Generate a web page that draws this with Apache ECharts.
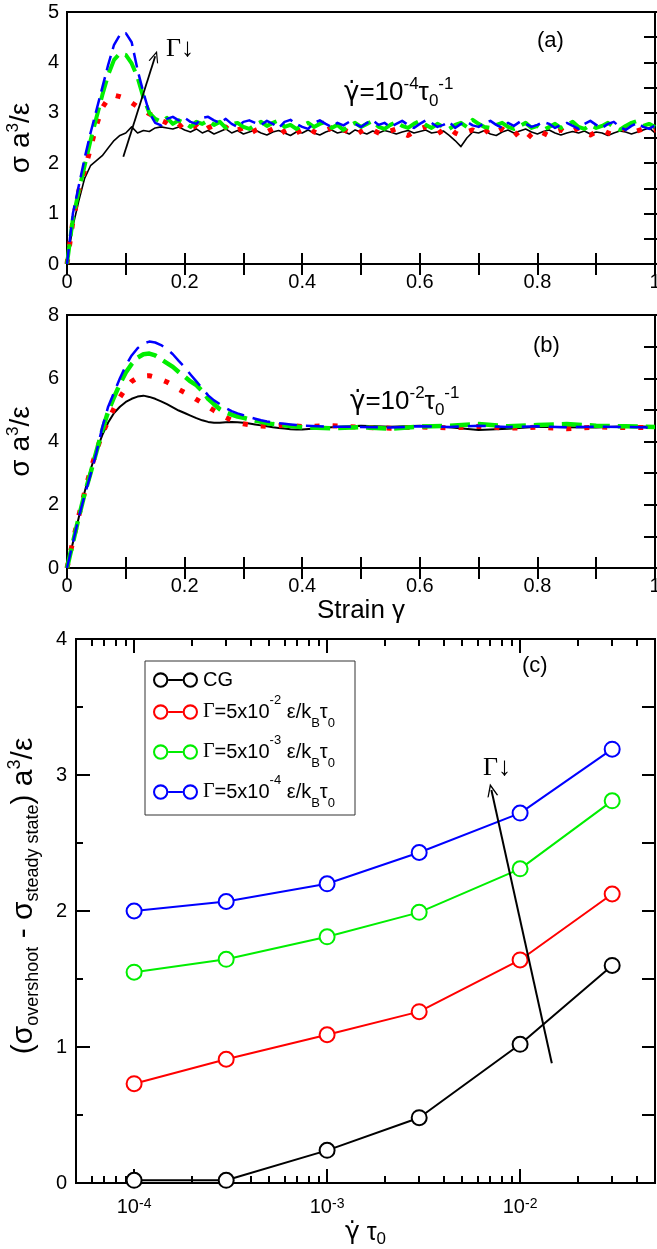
<!DOCTYPE html>
<html><head><meta charset="utf-8">
<script src="https://cdn.jsdelivr.net/npm/echarts@6/dist/echarts.min.js"></script>
<style>html,body{margin:0;padding:0;background:#fff}#c{width:657px;height:1249px}</style>
</head><body><div id="c"></div>
<script>
// ---------- Panel (a): shear rate 1e-4 ----------
const strainA = [0,0.01,0.02,0.03,0.04,0.05,0.06,0.07,0.08,0.09,
0.10,0.11,0.12,0.13,0.14,0.15,0.16,0.17,0.18,0.19,
0.20,0.21,0.22,0.23,0.24,0.25,0.26,0.27,0.28,0.29,
0.30,0.31,0.32,0.33,0.34,0.35,0.36,0.37,0.38,0.39,
0.40,0.41,0.42,0.43,0.44,0.45,0.46,0.47,0.48,0.49,
0.50,0.51,0.52,0.53,0.54,0.55,0.56,0.57,0.58,0.59,
0.60,0.61,0.62,0.63,0.64,0.65,0.66,0.67,0.68,0.69,
0.70,0.71,0.72,0.73,0.74,0.75,0.76,0.77,0.78,0.79,
0.80,0.81,0.82,0.83,0.84,0.85,0.86,0.87,0.88,0.89,
0.90,0.91,0.92,0.93,0.94,0.95,0.96,0.97,0.98,0.99,1.0];
const aCG = [0,0.75,1.25,1.7,1.95,2.05,2.15,2.3,2.45,2.55,
2.6,2.72,2.6,2.65,2.63,2.7,2.72,2.7,2.68,2.72,
2.66,2.62,2.68,2.6,2.65,2.58,2.63,2.68,2.6,2.65,
2.58,2.62,2.66,2.6,2.56,2.62,2.65,2.6,2.55,2.62,
2.6,2.66,2.6,2.56,2.62,2.66,2.6,2.63,2.58,2.66,
2.62,2.58,2.64,2.6,2.65,2.62,2.58,2.62,2.65,2.6,
2.63,2.66,2.6,2.62,2.64,2.55,2.45,2.33,2.5,2.62,
2.6,2.65,2.58,2.55,2.62,2.66,2.6,2.64,2.68,2.62,
2.58,2.63,2.66,2.6,2.56,2.6,2.63,2.6,2.64,2.58,
2.62,2.6,2.55,2.6,2.64,2.62,2.58,2.62,2.66,2.7,2.6];
const aG2 = [0,0.85,1.45,1.85,2.3,2.75,3.1,3.28,3.35,3.32,
3.28,3.2,3.12,3.05,2.98,2.92,2.85,2.8,2.72,2.78,
2.65,2.7,2.74,2.62,2.7,2.75,2.68,2.72,2.6,2.66,
2.7,2.58,2.65,2.7,2.62,2.68,2.55,2.64,2.7,2.6,
2.66,2.72,2.62,2.58,2.65,2.7,2.6,2.66,2.62,2.55,
2.63,2.7,2.66,2.6,2.56,2.64,2.68,2.6,2.55,2.62,
2.68,2.72,2.62,2.58,2.66,2.7,2.6,2.55,2.62,2.66,
2.6,2.68,2.56,2.62,2.68,2.6,2.64,2.5,2.45,2.58,
2.66,2.6,2.54,2.62,2.66,2.58,2.64,2.7,2.6,2.56,
2.62,2.66,2.6,2.56,2.64,2.7,2.6,2.64,2.68,2.62,2.66];
const aG3 = [0,0.9,1.45,1.95,2.45,2.9,3.35,3.75,4.05,4.18,
4.15,3.98,3.7,3.3,3.0,2.88,2.82,2.9,2.78,2.85,
2.8,2.72,2.82,2.78,2.85,2.76,2.82,2.7,2.78,2.8,
2.72,2.68,2.76,2.82,2.74,2.8,2.85,2.72,2.76,2.68,
2.74,2.8,2.72,2.78,2.82,2.7,2.76,2.66,2.74,2.8,
2.72,2.78,2.84,2.72,2.68,2.76,2.82,2.74,2.7,2.78,
2.84,2.76,2.7,2.78,2.72,2.68,2.76,2.8,2.72,2.86,
2.78,2.72,2.7,2.76,2.8,2.72,2.68,2.74,2.8,2.7,
2.74,2.66,2.72,2.78,2.7,2.76,2.82,2.72,2.68,2.76,
2.7,2.74,2.8,2.72,2.66,2.74,2.8,2.84,2.74,2.78,2.72];
const aG4 = [0,1.0,1.55,2.1,2.6,3.05,3.5,3.95,4.35,4.55,
4.58,4.4,3.85,3.4,3.0,2.8,2.75,2.88,2.92,2.85,
2.9,2.82,2.78,2.9,2.92,2.85,2.8,2.88,2.78,2.72,
2.82,2.85,2.8,2.76,2.84,2.78,2.7,2.82,2.86,2.78,
2.72,2.68,2.8,2.85,2.78,2.72,2.8,2.75,2.82,2.78,
2.72,2.8,2.85,2.76,2.8,2.72,2.78,2.84,2.76,2.7,
2.78,2.85,2.8,2.72,2.76,2.82,2.7,2.78,2.82,2.75,
2.72,2.8,2.84,2.76,2.7,2.8,2.74,2.82,2.78,2.72,
2.76,2.82,2.78,2.7,2.76,2.8,2.74,2.68,2.78,2.84,
2.76,2.7,2.78,2.82,2.72,2.66,2.74,2.8,2.72,2.68,2.75];

// ---------- Panel (b): shear rate 1e-2 ----------
const strainB = [0,0.01,0.02,0.03,0.04,0.05,0.06,0.07,0.08,0.09,
0.10,0.11,0.12,0.13,0.14,0.15,0.16,0.17,0.18,0.19,
0.20,0.21,0.22,0.23,0.24,0.25,0.26,0.27,0.28,0.29,
0.30,0.31,0.32,0.33,0.34,0.35,0.36,0.37,0.38,0.39,0.40,
0.45,0.50,0.55,0.60,0.65,0.70,0.75,0.80,0.85,0.90,0.95,1.0];
const bCG = [0,0.8,1.6,2.4,3.1,3.7,4.2,4.6,4.9,5.1,
5.25,5.35,5.42,5.45,5.41,5.35,5.27,5.18,5.08,4.98,
4.9,4.82,4.74,4.67,4.62,4.59,4.59,4.61,4.62,4.61,
4.59,4.57,4.54,4.51,4.48,4.45,4.43,4.41,4.39,4.38,4.38,
4.45,4.5,4.47,4.5,4.45,4.36,4.4,4.47,4.45,4.44,4.48,4.47];
const bG2 = [0,0.85,1.65,2.4,3.1,3.7,4.25,4.65,5.05,5.4,
5.68,5.9,6.02,6.07,6.08,6.03,5.96,5.88,5.78,5.65,
5.55,5.45,5.33,5.22,5.1,4.98,4.87,4.76,4.67,4.6,
4.56,4.53,4.5,4.49,4.48,4.48,4.5,4.52,4.51,4.49,4.47,
4.5,4.45,4.42,4.46,4.43,4.48,4.42,4.45,4.4,4.46,4.44,4.45];
const bG3 = [0,0.8,1.6,2.35,3.0,3.68,4.35,4.95,5.4,5.82,
6.18,6.45,6.65,6.76,6.78,6.72,6.6,6.48,6.36,6.2,
6.05,5.9,5.78,5.6,5.35,5.18,5.02,4.92,4.85,4.79,
4.75,4.7,4.66,4.62,4.58,4.55,4.53,4.51,4.49,4.47,4.45,
4.42,4.45,4.4,4.47,4.5,4.55,4.48,4.52,4.55,4.5,4.48,4.46];
const bG4 = [0,0.8,1.6,2.3,2.95,3.65,4.45,5.1,5.55,6.0,
6.4,6.72,6.95,7.1,7.16,7.13,7.05,6.92,6.76,6.55,
6.35,6.12,5.9,5.68,5.46,5.3,5.18,5.06,4.96,4.89,
4.83,4.77,4.72,4.67,4.63,4.6,4.58,4.56,4.54,4.52,4.5,
4.47,4.46,4.44,4.48,4.46,4.5,4.46,4.48,4.45,4.47,4.46,4.44];

// ---------- Panel (c): overshoot vs shear rate ----------
const rates = [1e-4, 3e-4, 1e-3, 3e-3, 1e-2, 3e-2];
const cCG = [0.02, 0.02, 0.24, 0.48, 1.02, 1.60];
const cG2 = [0.73, 0.91, 1.09, 1.26, 1.64, 2.125];
const cG3 = [1.55, 1.645, 1.81, 1.99, 2.31, 2.81];
const cG4 = [2.00, 2.07, 2.20, 2.43, 2.72, 3.19];
const decadeTicks = [1e-4, 1e-3, 1e-2];
const minorTicks = [6e-5,7e-5,8e-5,9e-5,2e-4,3e-4,4e-4,5e-4,6e-4,7e-4,8e-4,9e-4,
  2e-3,3e-3,4e-3,5e-3,6e-3,7e-3,8e-3,9e-3,2e-2,3e-2,4e-2];
const legendNames = ['CG', 'G2', 'G3', 'G4'];
const legendLabels = {
  CG: '{c|CG}',
  G2: '{g|Γ}=5x10{sup|-2} ε/k{sub|B}τ{sub|0}',
  G3: '{g|Γ}=5x10{sup|-3} ε/k{sub|B}τ{sub|0}',
  G4: '{g|Γ}=5x10{sup|-4} ε/k{sub|B}τ{sub|0}'
};

const FONT = '"Liberation Sans", Arial, Helvetica, sans-serif';
const SERIF = '"Liberation Serif", "Times New Roman", serif';
const DOTF = '"DejaVu Sans", sans-serif';
const BLACK = '#000', RED = '#ff0000', GREEN = '#00ee00', BLUE = '#0000ff';

function richSet(main, small, lh) {
  return {
    sup: {fontSize: small, fontFamily: FONT, color: '#000', lineHeight: small, verticalAlign: 'top'},
    sub: {fontSize: small, fontFamily: FONT, color: '#000', lineHeight: small, verticalAlign: 'bottom'},
    g: {fontSize: main, fontFamily: SERIF, color: '#000', lineHeight: lh},
    gd: {fontSize: main, fontFamily: DOTF, color: '#000', lineHeight: lh}
  };
}

const GRIDS = [
  {left: 67, top: 12, width: 588, height: 252},
  {left: 67, top: 315, width: 588, height: 253},
  {left: 76, top: 639, width: 579, height: 544}
];
const noLine = {show: false};
const tickStyle = {color: '#000', width: 2};
const labelStyle = {color: '#000', fontFamily: FONT, fontSize: 20, margin: 8};

function stepFormatter(step) {
  return v => {
    const k = v / step;
    if (Math.abs(k - Math.round(k)) > 1e-6) return '';
    return String(+v.toFixed(1));
  };
}
// label-only axis
function labelAxis(base) {
  return Object.assign({type: 'value', axisLine: noLine, axisTick: {show: false}, splitLine: {show: false}}, base);
}
// tick-only axis placed on the opposite edge so that its outward ticks point into the plot
function tickAxis(base, len) {
  return Object.assign({type: 'value', axisLine: noLine, splitLine: {show: false}, axisLabel: {show: false},
    axisTick: {show: true, inside: false, length: len, lineStyle: tickStyle}}, base);
}

function panelLinear(gi, ymax, yint, ylabelStep, yname) {
  const g = GRIDS[gi];
  const xs = {gridIndex: gi, min: 0, max: 1, interval: 0.1};
  const ys = {gridIndex: gi, min: 0, max: ymax, interval: yint};
  const x = [
    labelAxis(Object.assign({position: 'bottom', axisLabel: Object.assign({formatter: stepFormatter(0.2)}, labelStyle)}, xs)),
    tickAxis(Object.assign({position: 'top', offset: -g.height}, xs), 11),
    tickAxis(Object.assign({position: 'bottom', offset: -g.height}, xs), 11)
  ];
  const y = [
    labelAxis(Object.assign({position: 'left', axisLabel: Object.assign({formatter: stepFormatter(ylabelStep)}, labelStyle),
      name: yname, nameLocation: 'middle', nameRotate: 90, nameGap: 22,
      nameTextStyle: {color: '#000', fontFamily: FONT, fontSize: 28, lineHeight: 32, rich: richSet(28, 17, 32)}}, ys)),
    tickAxis(Object.assign({position: 'right', offset: -g.width}, ys), 11),
    tickAxis(Object.assign({position: 'left', offset: -g.width}, ys), 11)
  ];
  return {x, y};
}

function logBase(extra) {
  return Object.assign({type: 'log', logBase: 10, gridIndex: 2, min: 5e-5, max: 0.05,
    axisLine: noLine, splitLine: {show: false}, minorTick: {show: false}}, extra);
}
function logTick(pos, ticks, len) {
  return logBase({position: pos, offset: -GRIDS[2].height, axisLabel: {show: false},
    axisTick: {show: true, inside: false, length: len, customValues: ticks, lineStyle: tickStyle}});
}

const pA = panelLinear(0, 5, 0.5, 1, 'σ a{sup|3}/ε');
const pB = panelLinear(1, 8, 1, 2, 'σ a{sup|3}/ε');
pB.x[0].name = 'Strain γ';
pB.x[0].nameLocation = 'middle';
pB.x[0].nameGap = 30;
pB.x[0].nameTextStyle = {color: '#000', fontFamily: FONT, fontSize: 26};

const cX = [
  logBase({position: 'bottom', axisTick: {show: false},
    axisLabel: {customValues: decadeTicks, color: '#000', fontFamily: FONT, fontSize: 20, margin: 14,
      formatter: v => '10{sup|' + Math.round(Math.log10(v)) + '}',
      rich: {sup: {fontSize: 14, fontFamily: FONT, color: '#000', verticalAlign: 'top', lineHeight: 14}}},
    name: '{gd|γ̇} τ{sub|0}', nameLocation: 'middle', nameGap: 18,
    nameTextStyle: {color: '#000', fontFamily: FONT, fontSize: 25, lineHeight: 30, rich: richSet(25, 17, 30)}}),
  logTick('top', decadeTicks, 14),
  logTick('top', minorTicks, 7),
  logTick('bottom', decadeTicks, 14),
  logTick('bottom', minorTicks, 7)
];
const cYs = {gridIndex: 2, min: 0, max: 4};
const cY = [
  labelAxis(Object.assign({position: 'left', interval: 1, axisLabel: Object.assign({formatter: stepFormatter(1)}, labelStyle, {margin: 9}),
    name: '(σ{sub|overshoot} - σ{sub|steady state}) a{sup|3}/ε', nameLocation: 'middle', nameRotate: 90, nameGap: 34,
    nameTextStyle: {color: '#000', fontFamily: FONT, fontSize: 30, lineHeight: 36, padding: [0, 0, 0, 30], rich: richSet(30, 18, 36)}}, cYs)),
  Object.assign(tickAxis(Object.assign({position: 'right', offset: -GRIDS[2].width, interval: 1}, cYs), 14),
    {minorTick: {show: true, splitNumber: 2, length: 7, lineStyle: tickStyle}}),
  tickAxis(Object.assign({position: 'left', offset: -GRIDS[2].width, interval: 0.5}, cYs), 13)
];

function lineSeries(name, xi, yi, xs, ys, color, width, dash, z) {
  return {
    name: name, type: 'line', xAxisIndex: xi, yAxisIndex: yi,
    data: xs.map((x, i) => [x, ys[i]]), showSymbol: false, symbol: 'none', z: z,
    lineStyle: {color: color, width: width, type: dash, cap: 'butt', join: 'round'},
    emphasis: {disabled: true}, silent: true
  };
}
function ovSeries(name, ys, color) {
  return {
    name: name, type: 'line', xAxisIndex: 6, yAxisIndex: 6,
    data: rates.map((r, i) => [r, ys[i]]),
    symbol: 'emptyCircle', symbolSize: 15, showSymbol: true,
    lineStyle: {color: color, width: 2}, itemStyle: {color: color, borderColor: color, borderWidth: 2},
    emphasis: {disabled: true}, silent: true, z: 3
  };
}
const chevron = 'path://M0,12 L6,0 L12,12 L10.6,12 L6,3.2 L1.4,12 Z';
const ringIcon = 'path://M0.5,8 A7.5,7.5 0 1,1 15.5,8 A7.5,7.5 0 1,1 0.5,8 Z M2.5,8 A5.5,5.5 0 1,0 13.5,8 A5.5,5.5 0 1,0 2.5,8 Z M15.5,7 L29.5,7 L29.5,9 L15.5,9 Z M29.5,8 A7.5,7.5 0 1,1 44.5,8 A7.5,7.5 0 1,1 29.5,8 Z M31.5,8 A5.5,5.5 0 1,0 42.5,8 A5.5,5.5 0 1,0 31.5,8 Z';

const sC = ovSeries('CG', cCG, BLACK);
sC.markLine = {silent: true, symbol: ['none', chevron], symbolSize: [11, 13],
  lineStyle: {color: '#000', width: 2, type: 'solid'}, label: {show: false},
  data: [[{coord: [0.0146, 0.88]}, {coord: [0.0071, 2.89]}]]};

const aBlack = lineSeries('aCG', 0, 0, strainA, aCG, BLACK, 1.6, 'solid', 2);
aBlack.markLine = {silent: true, symbol: ['none', chevron], symbolSize: [10, 12],
  lineStyle: {color: '#000', width: 1.8, type: 'solid'}, label: {show: false},
  data: [[{coord: [0.0958, 2.13]}, {coord: [0.15, 4.12]}]]};

const chart = echarts.init(document.getElementById('c'), null, {renderer: 'canvas'});
const option = {
  animation: false,
  backgroundColor: '#fff',
  textStyle: {fontFamily: FONT},
  grid: GRIDS.map(g => Object.assign({show: true, borderColor: '#000', borderWidth: 2, backgroundColor: 'transparent', outerBoundsMode: 'none'}, g)),
  xAxis: pA.x.concat(pB.x, cX),
  yAxis: pA.y.concat(pB.y, cY),
  legend: {
    data: legendNames, orient: 'vertical', left: 145, top: 661,
    padding: [9, 20, 5, 8], itemGap: 4, itemWidth: 45, itemHeight: 16,
    borderColor: '#333', borderWidth: 1, backgroundColor: '#fff',
    icon: ringIcon, itemStyle: {borderWidth: 0}, selectedMode: false,
    formatter: n => legendLabels[n],
    textStyle: {color: '#000', fontFamily: FONT, fontSize: 20, lineHeight: 36,
      rich: Object.assign(richSet(20, 13, 36), {c: {fontSize: 20, fontFamily: FONT, color: '#000', lineHeight: 16}})}
  },
  series: [
    aBlack,
    lineSeries('aG2', 0, 0, strainA, aG2, RED, 5, [5, 13], 3),
    lineSeries('aG3', 0, 0, strainA, aG3, GREEN, 4, [20, 8], 4),
    lineSeries('aG4', 0, 0, strainA, aG4, BLUE, 2.5, [15, 7], 5),
    lineSeries('bCG', 3, 3, strainB, bCG, BLACK, 2, 'solid', 2),
    lineSeries('bG2', 3, 3, strainB, bG2, RED, 5, [5, 13], 3),
    lineSeries('bG3', 3, 3, strainB, bG3, GREEN, 4.5, [20, 8], 4),
    lineSeries('bG4', 3, 3, strainB, bG4, BLUE, 2.5, [18, 9], 5),
    sC,
    ovSeries('G2', cG2, RED),
    ovSeries('G3', cG3, GREEN),
    ovSeries('G4', cG4, BLUE)
  ],
  graphic: [
    {type: 'text', left: 537, top: 30, style: {text: '(a)', fontFamily: FONT, fontSize: 22, fill: '#000'}},
    {type: 'text', left: 166, top: 36, style: {text: 'Γ↓', fontFamily: SERIF, fontSize: 26, fill: '#000'}},
    {type: 'text', left: 344, top: 76, style: {text: '{gd|γ̇}=10{sup|-4}τ{sub|0}{sup|-1}', fontFamily: FONT, fontSize: 26, lineHeight: 34, fill: '#000', rich: richSet(26, 17, 34)}},
    {type: 'text', left: 533, top: 335, style: {text: '(b)', fontFamily: FONT, fontSize: 22, fill: '#000'}},
    {type: 'text', left: 350, top: 385, style: {text: '{gd|γ̇}=10{sup|-2}τ{sub|0}{sup|-1}', fontFamily: FONT, fontSize: 26, lineHeight: 34, fill: '#000', rich: richSet(26, 17, 34)}},
    {type: 'text', left: 522, top: 655, style: {text: '(c)', fontFamily: FONT, fontSize: 22, fill: '#000'}},
    {type: 'text', left: 483, top: 755, style: {text: 'Γ↓', fontFamily: SERIF, fontSize: 26, fill: '#000'}}
  ]
};
chart.setOption(option);
</script>
</body></html>
